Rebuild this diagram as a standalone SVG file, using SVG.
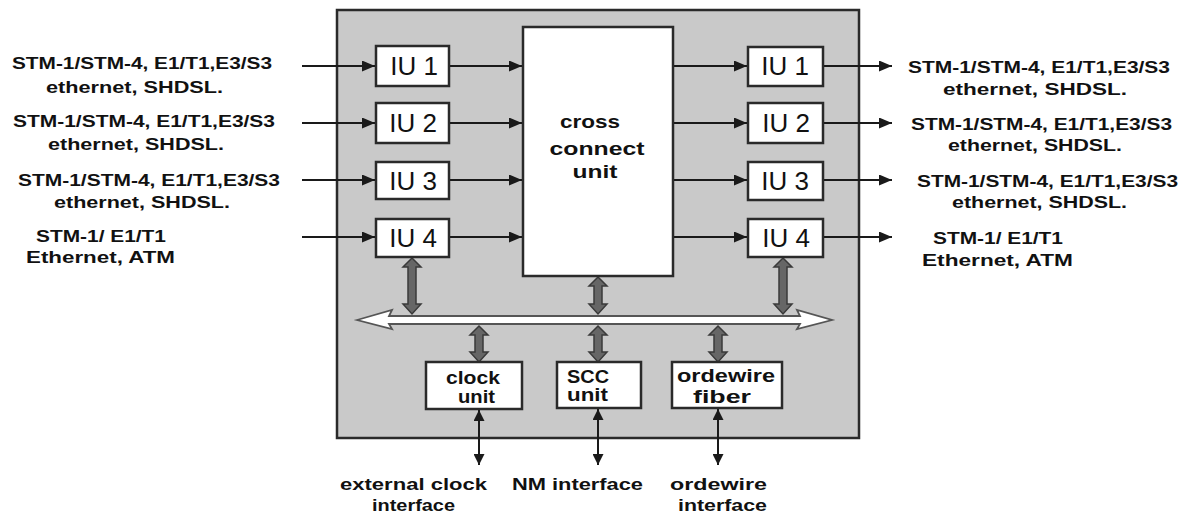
<svg xmlns="http://www.w3.org/2000/svg" width="1189" height="515" viewBox="0 0 1189 515">
<style>
.bg{fill:#ffffff}
.frame{fill:#c9c9c9;stroke:#2a2a2a;stroke-width:2.5}
.box{fill:#ffffff;stroke:#2a2a2a;stroke-width:2.5}
.iu{font-family:"Liberation Sans",Arial,sans-serif;font-size:26px;fill:#111;text-anchor:middle}
.lbl{font-family:"Liberation Sans",Arial,sans-serif;font-size:17px;font-weight:bold;fill:#111}
.blbl{font-family:"Liberation Sans",Arial,sans-serif;font-size:18px;font-weight:bold;fill:#111}
.ln{stroke:#1a1a1a;stroke-width:2;fill:none}
.fat{fill:#666666;stroke:#3a3a3a;stroke-width:1.5}
.bus{fill:#ffffff;stroke:#555555;stroke-width:1.8}
</style>
<defs>
<marker id="ah" markerUnits="userSpaceOnUse" markerWidth="13" markerHeight="11" refX="13" refY="5.5" orient="auto-start-reverse">
<path d="M0,0 L13,5.5 L0,11 z" fill="#1a1a1a"/>
</marker>
<marker id="ahs" markerUnits="userSpaceOnUse" markerWidth="11" markerHeight="11" refX="11" refY="5.5" orient="auto-start-reverse">
<path d="M0,0 L11,5.5 L0,11 z" fill="#1a1a1a"/>
</marker>
</defs>
<rect class="bg" x="0" y="0" width="1189" height="515"/>

<g id="chassis">
<rect class="frame" x="337" y="10" width="522" height="428"/>
</g>

<g id="connectors">
<line class="ln" x1="302" y1="66" x2="375" y2="66" marker-end="url(#ah)"/>
<line class="ln" x1="302" y1="123" x2="375" y2="123" marker-end="url(#ah)"/>
<line class="ln" x1="302" y1="180" x2="375" y2="180" marker-end="url(#ah)"/>
<line class="ln" x1="302" y1="237" x2="375" y2="237" marker-end="url(#ah)"/>
<line class="ln" x1="449" y1="66" x2="522" y2="66" marker-end="url(#ah)"/>
<line class="ln" x1="449" y1="123" x2="522" y2="123" marker-end="url(#ah)"/>
<line class="ln" x1="449" y1="180" x2="522" y2="180" marker-end="url(#ah)"/>
<line class="ln" x1="449" y1="237" x2="522" y2="237" marker-end="url(#ah)"/>
<line class="ln" x1="673" y1="66" x2="747" y2="66" marker-end="url(#ah)"/>
<line class="ln" x1="673" y1="123" x2="747" y2="123" marker-end="url(#ah)"/>
<line class="ln" x1="673" y1="180" x2="747" y2="180" marker-end="url(#ah)"/>
<line class="ln" x1="673" y1="237" x2="747" y2="237" marker-end="url(#ah)"/>
<line class="ln" x1="823" y1="66" x2="892" y2="66" marker-end="url(#ah)"/>
<line class="ln" x1="823" y1="123" x2="892" y2="123" marker-end="url(#ah)"/>
<line class="ln" x1="823" y1="180" x2="892" y2="180" marker-end="url(#ah)"/>
<line class="ln" x1="823" y1="237" x2="892" y2="237" marker-end="url(#ah)"/>
<polygon class="bus" points="357,320 392,310 389,316 800,316 797,310 832,320 797,329 800,324 389,324 392,329"/>
<polygon class="fat" points="412,258 421,267 416,267 416,304 421,304 412,314 403,304 408,304 408,267 403,267"/>
<polygon class="fat" points="598,277 607,286 602,286 602,304 607,304 598,314 589,304 594,304 594,286 589,286"/>
<polygon class="fat" points="783,258 792,267 787,267 787,304 792,304 783,314 774,304 779,304 779,267 774,267"/>
<polygon class="fat" points="479,326 488,335 483,335 483,352 488,352 479,362 470,352 475,352 475,335 470,335"/>
<polygon class="fat" points="598,326 607,335 602,335 602,352 607,352 598,362 589,352 594,352 594,335 589,335"/>
<polygon class="fat" points="718,326 727,335 722,335 722,352 727,352 718,362 709,352 714,352 714,335 709,335"/>
<line class="ln" x1="479" y1="410" x2="479" y2="465" marker-start="url(#ahs)" marker-end="url(#ahs)"/>
<line class="ln" x1="598" y1="409" x2="598" y2="465" marker-start="url(#ahs)" marker-end="url(#ahs)"/>
<line class="ln" x1="718" y1="409" x2="718" y2="465" marker-start="url(#ahs)" marker-end="url(#ahs)"/>
</g>

<g id="iu1-left"><rect class="box" x="376" y="46" width="73" height="40"/><text class="iu" x="414" y="75">IU 1</text></g>
<g id="iu2-left"><rect class="box" x="376" y="103" width="73" height="40"/><text class="iu" x="413" y="132">IU 2</text></g>
<g id="iu3-left"><rect class="box" x="376" y="162" width="73" height="37"/><text class="iu" x="413" y="190">IU 3</text></g>
<g id="iu4-left"><rect class="box" x="376" y="219" width="73" height="38"/><text class="iu" x="413" y="247">IU 4</text></g>

<g id="cross-connect">
<rect class="box" x="523" y="27" width="150" height="249"/>
<text class="blbl" x="590" y="128" text-anchor="middle" textLength="60" lengthAdjust="spacingAndGlyphs">cross</text>
<text class="blbl" x="597" y="155" text-anchor="middle" textLength="95" lengthAdjust="spacingAndGlyphs">connect</text>
<text class="blbl" x="595" y="178" text-anchor="middle" textLength="45" lengthAdjust="spacingAndGlyphs">unit</text>
</g>

<g id="iu1-right"><rect class="box" x="748" y="47" width="75" height="39"/><text class="iu" x="785" y="75">IU 1</text></g>
<g id="iu2-right"><rect class="box" x="748" y="103" width="75" height="40"/><text class="iu" x="786" y="132">IU 2</text></g>
<g id="iu3-right"><rect class="box" x="748" y="162" width="75" height="38"/><text class="iu" x="785" y="190">IU 3</text></g>
<g id="iu4-right"><rect class="box" x="748" y="219" width="75" height="38"/><text class="iu" x="786" y="247">IU 4</text></g>

<g id="clock-unit">
<rect class="box" x="426" y="362" width="96" height="47"/>
<text class="blbl" x="446" y="384" textLength="54" lengthAdjust="spacingAndGlyphs">clock</text>
<text class="blbl" x="458" y="403" textLength="37" lengthAdjust="spacingAndGlyphs">unit</text>
</g>
<g id="scc-unit">
<rect class="box" x="557" y="362" width="84" height="46"/>
<text class="blbl" x="567" y="383" textLength="42" lengthAdjust="spacingAndGlyphs">SCC</text>
<text class="blbl" x="567" y="401" textLength="41" lengthAdjust="spacingAndGlyphs">unit</text>
</g>
<g id="ordewire-fiber">
<rect class="box" x="672" y="362" width="110" height="46"/>
<text class="blbl" x="677" y="382" textLength="98" lengthAdjust="spacingAndGlyphs">ordewire</text>
<text class="blbl" x="693" y="403" textLength="58" lengthAdjust="spacingAndGlyphs">fiber</text>
</g>

<g id="left-labels">
<text class="lbl" x="12" y="69" textLength="260" lengthAdjust="spacingAndGlyphs">STM-1/STM-4, E1/T1,E3/S3</text>
<text class="lbl" x="46" y="93" textLength="177" lengthAdjust="spacingAndGlyphs">ethernet, SHDSL.</text>
<text class="lbl" x="13" y="127" textLength="262" lengthAdjust="spacingAndGlyphs">STM-1/STM-4, E1/T1,E3/S3</text>
<text class="lbl" x="48" y="150" textLength="176" lengthAdjust="spacingAndGlyphs">ethernet, SHDSL.</text>
<text class="lbl" x="18" y="186" textLength="262" lengthAdjust="spacingAndGlyphs">STM-1/STM-4, E1/T1,E3/S3</text>
<text class="lbl" x="54" y="208" textLength="176" lengthAdjust="spacingAndGlyphs">ethernet, SHDSL.</text>
<text class="lbl" x="36" y="242" textLength="130" lengthAdjust="spacingAndGlyphs">STM-1/ E1/T1</text>
<text class="lbl" x="26" y="263" textLength="149" lengthAdjust="spacingAndGlyphs">Ethernet, ATM</text>
</g>

<g id="right-labels">
<text class="lbl" x="908" y="73" textLength="262" lengthAdjust="spacingAndGlyphs">STM-1/STM-4, E1/T1,E3/S3</text>
<text class="lbl" x="943" y="95" textLength="184" lengthAdjust="spacingAndGlyphs">ethernet, SHDSL.</text>
<text class="lbl" x="911" y="130" textLength="261" lengthAdjust="spacingAndGlyphs">STM-1/STM-4, E1/T1,E3/S3</text>
<text class="lbl" x="948" y="151" textLength="174" lengthAdjust="spacingAndGlyphs">ethernet, SHDSL.</text>
<text class="lbl" x="917" y="187" textLength="261" lengthAdjust="spacingAndGlyphs">STM-1/STM-4, E1/T1,E3/S3</text>
<text class="lbl" x="952" y="208" textLength="175" lengthAdjust="spacingAndGlyphs">ethernet, SHDSL.</text>
<text class="lbl" x="933" y="244" textLength="130" lengthAdjust="spacingAndGlyphs">STM-1/ E1/T1</text>
<text class="lbl" x="922" y="266" textLength="151" lengthAdjust="spacingAndGlyphs">Ethernet, ATM</text>
</g>

<g id="bottom-labels">
<text class="lbl" x="340" y="490" textLength="147" lengthAdjust="spacingAndGlyphs">external clock</text>
<text class="lbl" x="372" y="511" textLength="83" lengthAdjust="spacingAndGlyphs">interface</text>
<text class="lbl" x="512" y="490" textLength="131" lengthAdjust="spacingAndGlyphs">NM interface</text>
<text class="lbl" x="670" y="490" textLength="97" lengthAdjust="spacingAndGlyphs">ordewire</text>
<text class="lbl" x="678" y="511" textLength="89" lengthAdjust="spacingAndGlyphs">interface</text>
</g>
</svg>
